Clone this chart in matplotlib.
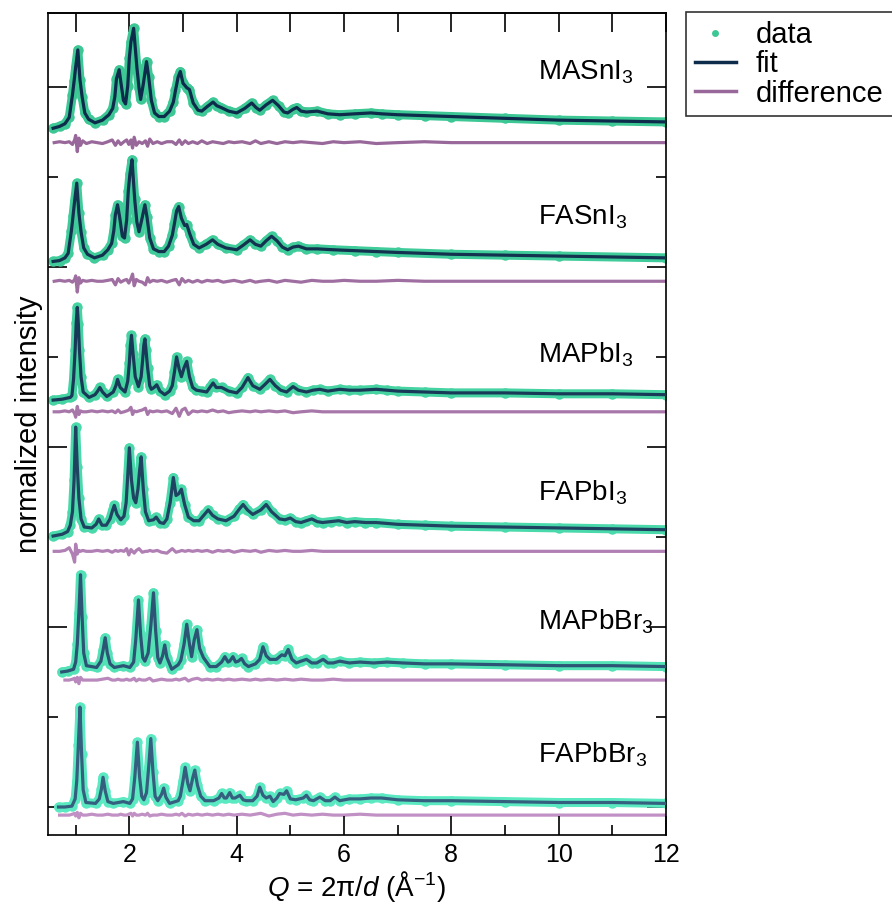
import numpy as np
import matplotlib
matplotlib.use('Agg')
import matplotlib.pyplot as plt
from matplotlib.lines import Line2D
from matplotlib.ticker import MultipleLocator, FixedLocator, NullFormatter

plt.rcParams['font.family'] = ['Liberation Sans', 'DejaVu Sans']
plt.rcParams['mathtext.fontset'] = 'custom'
plt.rcParams['mathtext.rm'] = 'Liberation Sans'
plt.rcParams['mathtext.it'] = 'Liberation Sans:italic'
plt.rcParams['mathtext.default'] = 'regular'

# 样品名称（从上到下）
names = ['MASnI$_3$', 'FASnI$_3$', 'MAPbI$_3$', 'FAPbI$_3$', 'MAPbBr$_3$', 'FAPbBr$_3$']

# 拟合曲线 (Q, 强度)，强度以 Q=12 处为零
masni = [(0.58, -0.07), (0.7, -0.05), (0.8, -0.02), (0.88, 0.05), (0.94, 0.3), (0.97, 0.45), (1.0, 0.61), (1.04, 0.8),
         (1.08, 0.47), (1.12, 0.28), (1.17, 0.1), (1.24, 0.03), (1.36, -0.01), (1.5, 0.02), (1.62, 0.08), (1.69, 0.15),
         (1.73, 0.28), (1.76, 0.48), (1.81, 0.58), (1.84, 0.45), (1.89, 0.24), (1.93, 0.2), (1.97, 0.4), (2.0, 0.71),
         (2.03, 0.89), (2.08, 1.04), (2.14, 0.61), (2.18, 0.38), (2.21, 0.25), (2.26, 0.42), (2.32, 0.67), (2.36, 0.5),
         (2.41, 0.24), (2.47, 0.1), (2.55, 0.06), (2.65, 0.06), (2.75, 0.12), (2.82, 0.22), (2.86, 0.35), (2.91, 0.5),
         (2.95, 0.56), (3.0, 0.43), (3.07, 0.38), (3.12, 0.36), (3.19, 0.21), (3.28, 0.13), (3.35, 0.12), (3.45, 0.17),
         (3.56, 0.22), (3.63, 0.18), (3.71, 0.16), (3.85, 0.12), (4.0, 0.1), (4.15, 0.15), (4.28, 0.21), (4.36, 0.16),
         (4.43, 0.13), (4.55, 0.19), (4.67, 0.24), (4.78, 0.18), (4.88, 0.11), (4.95, 0.1), (5.05, 0.14), (5.12, 0.16),
         (5.2, 0.12), (5.3, 0.11), (5.5, 0.12), (5.7, 0.09), (5.92, 0.08), (6.2, 0.09), (6.5, 0.1), (6.7, 0.09),
         (7.0, 0.08), (7.5, 0.07), (8.0, 0.06), (9.0, 0.04), (10.0, 0.02), (11.0, 0.01), (12.0, 0.0)]

fasni = [(0.58, -0.04), (0.7, -0.03), (0.8, 0.0), (0.86, 0.05), (0.92, 0.3), (0.95, 0.46), (0.98, 0.63), (1.02, 0.83),
         (1.06, 0.5), (1.1, 0.29), (1.15, 0.11), (1.22, 0.04), (1.35, 0.0), (1.5, 0.03), (1.6, 0.09), (1.67, 0.16),
         (1.71, 0.3), (1.74, 0.48), (1.78, 0.59), (1.82, 0.45), (1.87, 0.24), (1.91, 0.22), (1.95, 0.42), (1.98, 0.74),
         (2.01, 0.93), (2.05, 1.09), (2.1, 0.65), (2.14, 0.4), (2.18, 0.29), (2.23, 0.42), (2.29, 0.59), (2.33, 0.45),
         (2.38, 0.22), (2.45, 0.1), (2.55, 0.07), (2.65, 0.07), (2.73, 0.13), (2.8, 0.25), (2.84, 0.38), (2.88, 0.52),
         (2.92, 0.57), (2.97, 0.44), (3.03, 0.36), (3.07, 0.37), (3.13, 0.26), (3.2, 0.15), (3.3, 0.11), (3.43, 0.15),
         (3.55, 0.2), (3.65, 0.15), (3.8, 0.11), (4.0, 0.09), (4.12, 0.14), (4.25, 0.2), (4.35, 0.15), (4.45, 0.13),
         (4.55, 0.19), (4.65, 0.24), (4.75, 0.19), (4.85, 0.12), (4.95, 0.09), (5.05, 0.12), (5.15, 0.13), (5.3, 0.1),
         (5.5, 0.1), (5.8, 0.09), (6.2, 0.08), (6.6, 0.07), (7.0, 0.06), (8.0, 0.04), (9.0, 0.03), (10.0, 0.02), (12.0, 0.0)]

mapbi = [(0.58, -0.06), (0.75, -0.05), (0.9, -0.03), (0.93, -0.01), (0.96, 0.17), (0.99, 0.5), (1.01, 0.8), (1.03, 0.97),
         (1.05, 0.78), (1.07, 0.5), (1.1, 0.2), (1.14, 0.03), (1.25, -0.03), (1.36, 0.0), (1.41, 0.04), (1.45, 0.08),
         (1.5, 0.03), (1.58, -0.02), (1.7, 0.03), (1.75, 0.1), (1.78, 0.17), (1.83, 0.08), (1.92, 0.03), (1.97, 0.15),
         (2.0, 0.35), (2.02, 0.55), (2.04, 0.66), (2.07, 0.45), (2.11, 0.2), (2.17, 0.09), (2.22, 0.2), (2.25, 0.4),
         (2.27, 0.55), (2.29, 0.62), (2.31, 0.5), (2.34, 0.3), (2.38, 0.1), (2.41, 0.06), (2.46, 0.08), (2.51, 0.11),
         (2.57, 0.04), (2.66, 0.0), (2.75, 0.04), (2.8, 0.1), (2.84, 0.25), (2.88, 0.42), (2.93, 0.28), (2.97, 0.2),
         (3.02, 0.3), (3.07, 0.37), (3.12, 0.2), (3.18, 0.08), (3.25, 0.05), (3.35, 0.04), (3.44, 0.03), (3.5, 0.08),
         (3.56, 0.13), (3.62, 0.08), (3.72, 0.08), (3.85, 0.04), (4.0, 0.02), (4.1, 0.08), (4.21, 0.19), (4.3, 0.1),
         (4.43, 0.06), (4.52, 0.11), (4.62, 0.17), (4.72, 0.1), (4.82, 0.05), (4.93, 0.03), (5.05, 0.09), (5.15, 0.05),
         (5.3, 0.03), (5.42, 0.05), (5.55, 0.06), (5.7, 0.04), (5.92, 0.06), (6.1, 0.05), (6.3, 0.05), (6.6, 0.06),
         (6.8, 0.05), (7.0, 0.04), (7.5, 0.03), (8.0, 0.02), (9.0, 0.02), (10.0, 0.01), (11.0, 0.01), (12.0, 0.0)]

fapbi = [(0.58, -0.07), (0.75, -0.05), (0.85, -0.02), (0.9, 0.05), (0.94, 0.2), (0.97, 0.55), (1.0, 1.14), (1.03, 0.7),
         (1.06, 0.35), (1.1, 0.12), (1.16, 0.03), (1.3, 0.02), (1.38, 0.06), (1.43, 0.12), (1.49, 0.05), (1.57, 0.05),
         (1.64, 0.12), (1.69, 0.22), (1.72, 0.27), (1.77, 0.17), (1.84, 0.11), (1.9, 0.15), (1.94, 0.3), (1.97, 0.6),
         (2.0, 0.91), (2.04, 0.55), (2.08, 0.35), (2.12, 0.3), (2.16, 0.45), (2.19, 0.65), (2.22, 0.81), (2.26, 0.45),
         (2.3, 0.2), (2.36, 0.1), (2.45, 0.11), (2.5, 0.14), (2.57, 0.08), (2.64, 0.07), (2.7, 0.12), (2.76, 0.3),
         (2.82, 0.58), (2.87, 0.38), (2.92, 0.4), (2.97, 0.45), (3.03, 0.28), (3.1, 0.14), (3.2, 0.1), (3.3, 0.1),
         (3.4, 0.17), (3.47, 0.22), (3.55, 0.16), (3.65, 0.12), (3.8, 0.1), (3.95, 0.15), (4.05, 0.23), (4.12, 0.28),
         (4.2, 0.22), (4.3, 0.17), (4.45, 0.22), (4.55, 0.28), (4.65, 0.2), (4.8, 0.12), (4.9, 0.11), (5.0, 0.13),
         (5.1, 0.09), (5.2, 0.08), (5.3, 0.1), (5.4, 0.12), (5.5, 0.09), (5.6, 0.08), (5.75, 0.09), (5.9, 0.1),
         (6.05, 0.08), (6.2, 0.09), (6.4, 0.08), (6.6, 0.08), (7.0, 0.06), (7.5, 0.05), (8.0, 0.04), (9.0, 0.03),
         (10.0, 0.02), (11.0, 0.01), (12.0, 0.0)]

mapbbr = [(0.74, -0.06), (0.85, -0.05), (0.96, -0.03), (1.0, 0.05), (1.03, 0.25), (1.06, 0.6), (1.09, 1.02), (1.12, 0.55),
          (1.15, 0.15), (1.2, 0.01), (1.39, -0.01), (1.47, 0.06), (1.51, 0.18), (1.55, 0.32), (1.59, 0.15), (1.64, 0.03),
          (1.72, -0.01), (1.89, 0.01), (2.01, -0.01), (2.08, 0.05), (2.12, 0.3), (2.17, 0.74), (2.21, 0.35), (2.25, 0.1),
          (2.29, 0.06), (2.35, 0.15), (2.4, 0.45), (2.45, 0.82), (2.49, 0.4), (2.53, 0.1), (2.57, 0.04), (2.62, 0.12),
          (2.66, 0.24), (2.7, 0.1), (2.79, -0.03), (2.91, 0.02), (2.96, 0.07), (3.02, 0.25), (3.07, 0.47), (3.12, 0.25),
          (3.16, 0.11), (3.21, 0.3), (3.26, 0.41), (3.31, 0.2), (3.38, 0.1), (3.5, 0.0), (3.62, 0.0), (3.72, 0.05),
          (3.78, 0.11), (3.84, 0.05), (3.87, 0.06), (3.93, 0.11), (3.98, 0.05), (4.03, 0.06), (4.09, 0.09), (4.15, 0.03),
          (4.22, 0.0), (4.35, 0.03), (4.43, 0.08), (4.49, 0.22), (4.55, 0.12), (4.62, 0.08), (4.74, 0.08), (4.84, 0.13),
          (4.9, 0.12), (4.96, 0.19), (5.03, 0.08), (5.11, 0.04), (5.2, 0.06), (5.3, 0.08), (5.4, 0.04), (5.49, 0.04),
          (5.61, 0.08), (5.7, 0.04), (5.8, 0.04), (5.92, 0.06), (6.1, 0.04), (6.3, 0.05), (6.55, 0.04), (6.8, 0.05),
          (7.1, 0.04), (7.5, 0.03), (8.0, 0.03), (9.0, 0.02), (10.0, 0.01), (11.0, 0.01), (12.0, 0.0)]

fapbbr = [(0.68, -0.04), (0.8, -0.04), (0.93, -0.03), (0.99, 0.05), (1.02, 0.25), (1.05, 0.65), (1.08, 1.07), (1.11, 0.55),
          (1.14, 0.15), (1.19, 0.01), (1.37, 0.0), (1.44, 0.05), (1.48, 0.16), (1.51, 0.29), (1.55, 0.14), (1.6, 0.02),
          (1.7, 0.0), (1.89, 0.02), (2.01, 0.0), (2.06, 0.05), (2.1, 0.28), (2.15, 0.68), (2.19, 0.3), (2.23, 0.08),
          (2.27, 0.04), (2.32, 0.12), (2.36, 0.4), (2.4, 0.72), (2.44, 0.35), (2.48, 0.08), (2.53, 0.03), (2.6, 0.1),
          (2.64, 0.17), (2.68, 0.07), (2.75, 0.0), (2.91, 0.03), (2.95, 0.08), (3.0, 0.25), (3.04, 0.4), (3.09, 0.22),
          (3.13, 0.14), (3.18, 0.28), (3.22, 0.37), (3.27, 0.2), (3.33, 0.08), (3.41, 0.03), (3.57, 0.03), (3.67, 0.06),
          (3.72, 0.11), (3.77, 0.06), (3.81, 0.06), (3.87, 0.12), (3.92, 0.06), (3.97, 0.06), (4.06, 0.09), (4.12, 0.04),
          (4.18, 0.03), (4.3, 0.03), (4.38, 0.08), (4.43, 0.18), (4.49, 0.09), (4.55, 0.06), (4.62, 0.08), (4.68, 0.02),
          (4.75, 0.06), (4.8, 0.11), (4.88, 0.1), (4.93, 0.14), (5.0, 0.05), (5.1, 0.04), (5.24, 0.06), (5.3, 0.09),
          (5.36, 0.04), (5.43, 0.03), (5.55, 0.07), (5.65, 0.03), (5.74, 0.03), (5.83, 0.07), (5.92, 0.03), (6.1, 0.05),
          (6.3, 0.05), (6.5, 0.06), (6.7, 0.06), (7.0, 0.04), (7.5, 0.03), (8.0, 0.03), (9.0, 0.02), (10.0, 0.01),
          (11.0, 0.01), (12.0, 0.0)]

# 差值曲线：共用 Q 网格
diff_q = [0.6, 0.7, 0.8, 0.88, 0.94, 0.98, 1.0, 1.03, 1.06, 1.09,
          1.13, 1.2, 1.3, 1.4, 1.5, 1.6, 1.68, 1.74, 1.79, 1.84,
          1.9, 1.95, 1.99, 2.03, 2.06, 2.09, 2.13, 2.18, 2.24, 2.3,
          2.34, 2.38, 2.44, 2.52, 2.6, 2.7, 2.8, 2.87, 2.93, 2.98,
          3.04, 3.1, 3.18, 3.27, 3.35, 3.45, 3.55, 3.65, 3.75, 3.85,
          3.95, 4.1, 4.25, 4.35, 4.45, 4.6, 4.75, 4.9, 5.05, 5.2,
          5.4, 5.6, 5.8, 6.0, 6.3, 6.6, 7.0, 7.5, 8.0, 9.0,
          10.0, 11.0, 12.0]
nan = np.nan
d_masni = [0, 0.01, 0, 0.01, -0.02, 0.03, 0.08, -0.1, 0.05, -0.03,
           0.02, -0.01, 0.01, 0, -0.01, 0.01, 0.03, -0.03, 0.02, -0.02,
           0.01, 0.03, -0.02, 0.03, -0.06, 0.06, -0.03, 0.01, -0.01, 0.02,
           -0.04, 0.04, -0.01, 0.01, -0.01, 0.01, 0.01, -0.02, 0.03, -0.02,
           0.02, -0.01, 0.01, -0.01, 0.02, -0.01, 0.01, 0, -0.01, 0.01,
           0, 0.01, -0.01, 0.02, -0.01, 0.01, -0.01, 0.01, 0, 0.01,
           0, -0.01, 0.01, 0, 0.01, -0.01, 0, 0.01, 0, 0,
           0, 0, 0]
d_fasni = [0, 0.01, 0, 0.01, -0.01, 0.02, 0.06, -0.12, 0.04, -0.02,
           0.01, 0, 0.01, 0, 0, 0.01, 0.02, -0.04, 0.03, -0.01,
           0.01, 0.02, -0.02, 0.03, 0.08, -0.05, 0.02, 0, -0.01, -0.04,
           0.04, -0.01, 0.01, 0, 0.01, -0.01, 0.01, 0.02, -0.04, 0.03,
           -0.01, 0.01, -0.01, 0.01, -0.01, 0.01, 0, 0.01, -0.01, 0,
           0.01, -0.01, 0.01, -0.01, 0, 0.01, -0.01, 0.01, 0, -0.01,
           0.01, 0, 0, 0.01, 0, 0, 0.01, 0, 0, 0,
           0, 0, 0]
d_mapbi = [0, 0, 0.01, 0, 0.02, -0.02, -0.06, 0.06, -0.03, 0.01,
           0, 0, 0.01, 0, 0.01, 0, 0.01, -0.01, 0.02, -0.01,
           0, 0.01, 0.02, 0.05, -0.03, 0.01, 0, 0.01, 0.02, 0.04,
           -0.03, 0.01, 0, 0.01, 0, 0.01, -0.02, 0.04, -0.05, 0.02,
           0.04, -0.03, 0.01, 0, 0.01, 0, 0.02, 0, 0.01, -0.01,
           0, 0.01, 0, 0.01, 0, 0.01, 0, 0.01, -0.01, 0,
           0.01, 0, 0, 0, 0, 0, 0, 0, 0, 0,
           0, 0, 0]
d_fapbi = [0, 0, 0.01, 0.04, -0.03, -0.12, 0.08, -0.03, 0.01, 0,
           0.01, 0, 0, 0.01, 0, 0.01, -0.01, 0.01, 0, 0.01,
           0, 0.03, -0.04, 0.02, 0, -0.02, 0.01, 0.03, -0.01, 0,
           0, 0.01, 0, 0.01, -0.01, -0.02, 0.03, -0.01, 0, 0.01,
           0, 0.01, 0, 0.01, 0, 0.01, -0.01, 0.01, 0, 0.01,
           -0.01, 0.01, 0, 0.01, -0.01, 0.01, 0, 0.01, 0, 0,
           0.01, 0, 0, 0, 0, 0, 0, 0, 0, 0,
           0, 0, 0]
d_mapbbr = [nan, nan, 0, 0, 0.01, 0.02, -0.02, 0.03, -0.04, 0.03,
            0, 0, 0, 0, 0.01, 0.02, 0, 0, 0.01, 0,
            0, 0.01, 0, 0, 0.01, 0.02, -0.01, 0.01, 0, 0,
            0.01, 0.02, -0.01, 0, 0.01, 0, 0, 0.01, 0, 0.01,
            0.02, -0.01, 0.01, 0.02, 0, 0.01, 0, 0.01, 0, 0.01,
            0, 0.01, 0, 0.01, 0, 0.01, 0, 0.01, 0, 0.01,
            0, 0, 0.01, 0, 0, 0, 0, 0, 0, 0,
            0, 0, 0]
d_fapbbr = [nan, 0, 0, 0, 0.01, 0.02, -0.01, 0.03, -0.03, 0.02,
            0, 0, 0.01, 0, 0, 0.01, 0, 0, 0, 0.01,
            0, 0, 0.01, 0.02, -0.01, 0.02, 0, 0, 0.01, 0,
            0.02, -0.01, 0, 0, 0.01, 0, 0, 0.01, 0, 0.02,
            -0.01, 0.01, 0, 0.01, 0, 0.01, 0, 0.01, 0, 0.01,
            0, 0.01, 0, 0.01, 0.02, -0.01, 0.01, 0.02, 0, 0.01,
            0, 0.01, 0, 0, 0.01, 0, 0, 0, 0, 0,
            0, 0, 0]

fits = [masni, fasni, mapbi, fapbi, mapbbr, fapbbr]
diffs = [d_masni, d_fasni, d_mapbi, d_fapbi, d_mapbbr, d_fapbbr]

# 垂直偏移与标签位置
fit_offset = [7.61, 6.10, 4.58, 3.08, 1.56, 0.04]
diff_offset = [7.38, 5.84, 4.39, 2.84, 1.41, -0.09]
label_y = [8.08, 6.47, 4.94, 3.41, 1.97, 0.49]

c_data = ['#3cc795', '#40cc9a', '#45d3a2', '#4ad9aa', '#52e2b6', '#5ae9c1']
c_fit = ['#0d2b4a', '#12324f', '#183a58', '#1f4462', '#2c5474', '#355f7e']
c_diff = ['#99689a', '#a06fa2', '#a877aa', '#b07fb3', '#b988bc', '#c190c4']

fig = plt.figure(figsize=(8.92, 9.15), dpi=100)
ax = fig.add_axes([47.5/892, 1-835/915, (666-47.5)/892, (835-13)/915])

for k in range(6):
    q = np.array([p[0] for p in fits[k]])
    y = np.array([p[1] for p in fits[k]]) + fit_offset[k]
    ax.plot(q, y, '-', color=c_data[k], lw=6.5, solid_capstyle='round', solid_joinstyle='round', zorder=2)
    ax.plot(q, y, 'o', color=c_data[k], ms=7.5, mew=0, zorder=2)
    ax.plot(q, y, '-', color=c_fit[k], lw=2.3, zorder=3)
    ax.plot(diff_q, np.array(diffs[k]) + diff_offset[k], '-', color=c_diff[k], lw=2.3, zorder=1)
    ax.text(9.61, label_y[k], names[k], fontsize=20, ha='left', va='baseline')

ax.set_xlim(0.475, 12)
ax.set_ylim(-0.311, 8.82)

ax.xaxis.set_major_locator(MultipleLocator(2))
ax.xaxis.set_minor_locator(MultipleLocator(1))
ax.yaxis.set_major_locator(MultipleLocator(2))
ax.yaxis.set_minor_locator(MultipleLocator(1))
ax.yaxis.set_major_formatter(NullFormatter())
ax.tick_params(which='major', direction='in', length=14, width=1.2, labelsize=18, pad=6,
               left=True, right=True, bottom=True, top=False)
ax.tick_params(which='minor', direction='in', length=7, width=1.2,
               left=True, right=True, bottom=True, top=False)

top = ax.secondary_xaxis('top')
top.xaxis.set_major_locator(FixedLocator(list(range(1, 13))))
top.xaxis.set_minor_locator(FixedLocator([]))
top.xaxis.set_major_formatter(NullFormatter())
top.tick_params(which='major', direction='in', length=14, width=1.2)

for sp in ax.spines.values():
    sp.set_linewidth(1.2)
top.spines['top'].set_linewidth(1.2)

ax.set_xlabel(r'$\mathit{Q}$ = 2π/$\mathit{d}$ (Å$^{-1}$)', fontsize=20, labelpad=1)
ax.set_ylabel('normalized intensity', fontsize=21, labelpad=-3)

handles = [Line2D([], [], marker='o', ls='none', color=c_data[0], ms=5, mew=0),
           Line2D([], [], color=c_fit[0], lw=2.5),
           Line2D([], [], color=c_diff[0], lw=2.5)]
leg = fig.legend(handles, ['data', 'fit', 'difference'], loc='upper left',
                 bbox_to_anchor=(686/892, 1-12/915), fontsize=21, frameon=True,
                 fancybox=False, edgecolor='black', handlelength=1.4, handletextpad=0.7,
                 labelspacing=0.05, borderpad=0.3, borderaxespad=0)
leg.get_frame().set_linewidth(1.2)

fig.savefig('out.png', dpi=100)
